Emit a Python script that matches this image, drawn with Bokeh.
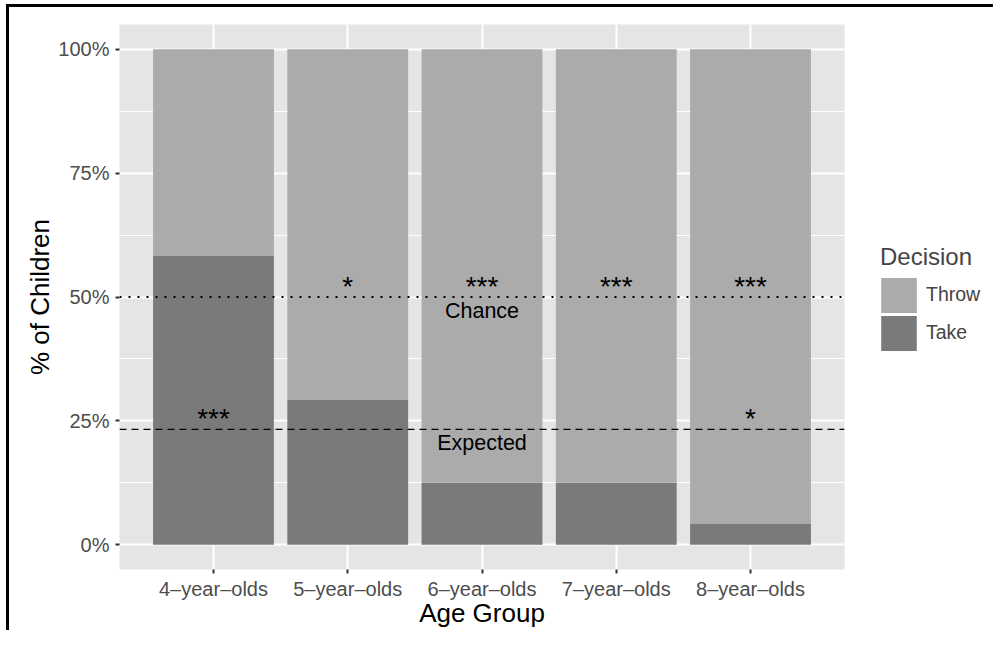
from bokeh.plotting import figure
from bokeh.models import (ColumnDataSource, FactorRange, Range1d, FixedTicker,
                          Span, Legend, LegendItem)
from bokeh.core.properties import value
from bokeh.embed import file_html
from bokeh.resources import INLINE

# ---- data ----
age_groups = ["4–year–olds", "5–year–olds", "6–year–olds", "7–year–olds", "8–year–olds"]
take_share = [0.583, 0.292, 0.125, 0.125, 0.042]
throw_share = [0.417, 0.708, 0.875, 0.875, 0.958]
decisions = ["Throw", "Take"]

chance_level = 0.5
expected_level = 0.233

star_groups = ["5–year–olds", "6–year–olds", "7–year–olds", "8–year–olds",
               "4–year–olds", "8–year–olds"]
star_levels = [0.5, 0.5, 0.5, 0.5, 0.233, 0.233]
star_texts = ["*", "***", "***", "***", "***", "*"]

line_label_groups = ["6–year–olds", "6–year–olds"]
line_label_levels = [0.5, 0.233]
line_label_texts = ["Chance", "Expected"]

y_ticks = [0, 0.25, 0.5, 0.75, 1.0]
y_minor_ticks = [0.125, 0.375, 0.625, 0.875]
y_tick_labels = ["0%", "25%", "50%", "75%", "100%"]

# ---- style ----
FONT = "Liberation Sans"
PANEL = "#e5e5e5"
THROW_C = "#ababab"
TAKE_C = "#7a7a7a"

src = ColumnDataSource(dict(age=age_groups, Take=take_share, Throw=throw_share))

p = figure(x_range=FactorRange(factors=age_groups, range_padding=0.2,
                               range_padding_units="absolute"),
           y_range=Range1d(-0.05, 1.05),
           frame_width=725, frame_height=545,
           output_backend="svg", toolbar_location=None,
           min_border_left=110, min_border_top=17, min_border_right=130,
           min_border_bottom=56)
p.styles = {"border-top": "3px solid black", "border-left": "3px solid black",
            "margin-top": "4px", "margin-left": "6px"}

p.background_fill_color = PANEL
p.border_fill_color = "white"
p.outline_line_color = None

# grids
p.xgrid.grid_line_color = "white"
p.xgrid.grid_line_width = 2
p.ygrid.grid_line_color = "white"
p.ygrid.grid_line_width = 2
p.ygrid.minor_grid_line_color = "white"
p.ygrid.minor_grid_line_width = 1
p.xgrid.level = "underlay"
p.ygrid.level = "underlay"

# bars
bars = p.vbar_stack(["Take", "Throw"], x="age", width=0.9, source=src,
                    fill_color=[TAKE_C, THROW_C], line_color=None)

# hidden copies used only to draw full-size legend squares
key_throw = p.vbar(x="age", top="Throw", width=0.9, source=src, visible=False,
                   fill_color=THROW_C, line_color=THROW_C, line_width=6,
                   line_join="miter")
key_take = p.vbar(x="age", top="Take", width=0.9, source=src, visible=False,
                  fill_color=TAKE_C, line_color=TAKE_C, line_width=6,
                  line_join="miter")

# reference lines
p.add_layout(Span(location=chance_level, dimension="width", line_color="black",
                  line_width=2, line_dash="2 7"))
p.add_layout(Span(location=expected_level, dimension="width", line_color="black",
                  line_width=1.3, line_dash="7 5"))

# stars
star_src = ColumnDataSource(dict(x=star_groups, y=star_levels, t=star_texts))
p.text(x="x", y="y", text="t", source=star_src, text_font=value(FONT),
       text_font_size="28px", text_align="center", text_baseline="alphabetic",
       y_offset=-11, text_color="black")

lab_src = ColumnDataSource(dict(x=line_label_groups, y=line_label_levels, t=line_label_texts))
p.text(x="x", y="y", text="t", source=lab_src, text_font=value(FONT),
       text_font_size="21.5px", text_align="center", text_baseline="alphabetic",
       y_offset=13.5, text_color="black")

# axes
p.yaxis.ticker = FixedTicker(ticks=y_ticks, minor_ticks=y_minor_ticks)
p.yaxis.major_label_overrides = {t: l for t, l in zip(y_ticks, y_tick_labels)}
for ax in (p.xaxis[0], p.yaxis[0]):
    ax.axis_line_color = None
    ax.major_tick_line_color = "#333333"
    ax.major_tick_line_width = 2
    ax.major_tick_in = 0
    ax.major_tick_out = 4
    ax.minor_tick_line_color = None
    ax.major_label_text_font = FONT
    ax.major_label_text_font_size = "20px"
    ax.major_label_text_color = "#4d4d4d"
    ax.axis_label_text_font = FONT
    ax.axis_label_text_font_size = "26px"
    ax.axis_label_text_font_style = "normal"
    ax.axis_label_text_color = "black"
p.yaxis.axis_label = "% of Children"
p.xaxis.axis_label = "Age Group"
p.yaxis.major_label_standoff = 6
p.yaxis.axis_label_standoff = 0
p.xaxis.major_label_standoff = 4
p.xaxis.axis_label_standoff = -5

legend = Legend(items=[LegendItem(label=decisions[0], renderers=[bars[1], key_throw]),
                       LegendItem(label=decisions[1], renderers=[bars[0], key_take])],
                title="Decision", location="left", orientation="vertical",
                click_policy="none")
legend.title_text_font = FONT
legend.title_text_font_size = "24px"
legend.title_text_font_style = "normal"
legend.title_standoff = 6
legend.label_text_font = FONT
legend.label_text_font_size = "19.5px"
legend.label_standoff = 9
legend.glyph_width = 37
legend.glyph_height = 36
legend.spacing = 2
legend.padding = 0
legend.margin = 36
legend.border_line_color = None
legend.background_fill_color = None
p.add_layout(legend, "right")

open("out.html", "w").write(file_html(p, INLINE))
